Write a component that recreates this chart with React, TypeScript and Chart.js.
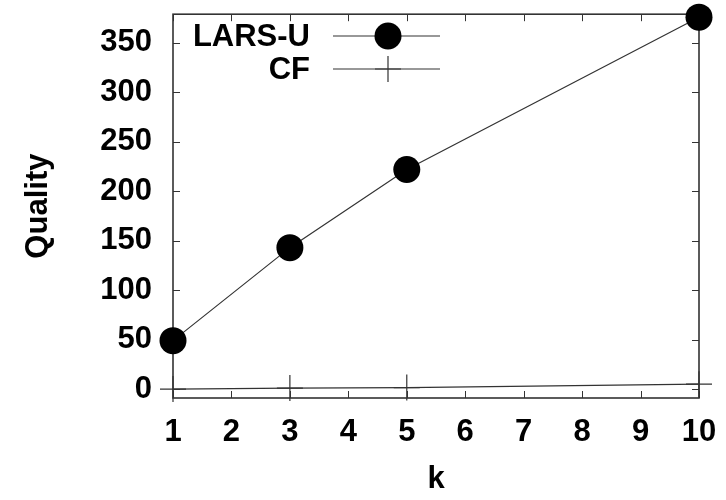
import React, { useEffect, useRef } from "react";
import { Chart, registerables } from "chart.js";

Chart.register(...registerables);

const kValues = [1, 3, 5, 10];
const larsUValues = [49, 143, 222, 376];
const cfValues = [0, 1, 1.5, 5];
const seriesNames = ["LARS-U", "CF"];
const xTickValues = [1, 2, 3, 4, 5, 6, 7, 8, 9, 10];
const yTickValues = [0, 50, 100, 150, 200, 250, 300, 350];
const xTitle = "k";
const yTitle = "Quality";

const FONT = "'Liberation Sans', Arial, Helvetica, sans-serif";
const FONT_SIZE = 31;
const INK = "#333333";

const framePlugin = {
  id: "gnuFrame",
  beforeDatasetsDraw(chart: any) {
    const { ctx, chartArea } = chart;
    const { left, right, top, bottom } = chartArea;
    const xs = chart.scales.x;
    const ys = chart.scales.y;
    const tl = 7;
    ctx.save();
    ctx.strokeStyle = INK;
    ctx.lineWidth = 1;
    ctx.beginPath();
    xTickValues.forEach((v) => {
      const px = Math.round(xs.getPixelForValue(v)) + 0.5;
      ctx.moveTo(px, bottom);
      ctx.lineTo(px, bottom - tl);
      ctx.moveTo(px, top);
      ctx.lineTo(px, top + tl);
    });
    yTickValues.forEach((v) => {
      const py = Math.round(ys.getPixelForValue(v)) + 0.5;
      ctx.moveTo(left, py);
      ctx.lineTo(left + tl, py);
      ctx.moveTo(right, py);
      ctx.lineTo(right - tl, py);
    });
    ctx.stroke();
    ctx.lineWidth = 1.6;
    ctx.strokeRect(left, top, right - left, bottom - top);
    ctx.restore();
  },
  afterDraw(chart: any) {
    const { ctx } = chart;
    const textRight = 310;
    const lineStart = 333;
    const lineEnd = 440;
    const markX = 388;
    const rows = [36, 69];
    ctx.save();
    ctx.font = `bold ${FONT_SIZE}px ${FONT}`;
    ctx.textAlign = "right";
    ctx.textBaseline = "middle";
    ctx.fillStyle = "#000";
    seriesNames.forEach((name, i) => {
      const y = rows[i];
      ctx.fillText(name, textRight, y + 1);
      ctx.strokeStyle = INK;
      ctx.lineWidth = 1.2;
      ctx.beginPath();
      ctx.moveTo(lineStart, y);
      ctx.lineTo(lineEnd, y);
      ctx.stroke();
      if (i === 0) {
        ctx.fillStyle = "#000";
        ctx.beginPath();
        ctx.arc(markX, y, 13.5, 0, Math.PI * 2);
        ctx.fill();
      } else {
        ctx.beginPath();
        ctx.moveTo(markX - 13, y);
        ctx.lineTo(markX + 13, y);
        ctx.moveTo(markX, y - 13);
        ctx.lineTo(markX, y + 13);
        ctx.stroke();
      }
    });
    ctx.restore();
  },
};

export default function App() {
  const canvasRef = useRef<HTMLCanvasElement | null>(null);

  useEffect(() => {
    if (!canvasRef.current) return;
    const zeroPad = (scale: any) => {
      scale.paddingTop = 0;
      scale.paddingBottom = 0;
      scale.paddingLeft = 0;
      scale.paddingRight = 0;
    };
    const chart = new Chart(canvasRef.current, {
      type: "line",
      data: {
        datasets: [
          {
            label: seriesNames[0],
            data: kValues.map((k, i) => ({ x: k, y: larsUValues[i] })),
            borderColor: INK,
            borderWidth: 1.2,
            pointRadius: 13.5,
            pointBackgroundColor: "#000",
            pointBorderColor: "#000",
            pointBorderWidth: 0,
            tension: 0,
            clip: false as any,
          },
          {
            label: seriesNames[1],
            data: kValues.map((k, i) => ({ x: k, y: cfValues[i] })),
            borderColor: INK,
            borderWidth: 1.2,
            pointStyle: "cross",
            pointRadius: 13,
            pointBorderColor: INK,
            pointBorderWidth: 1.2,
            tension: 0,
            clip: false as any,
          },
        ],
      },
      options: {
        responsive: false,
        animation: false,
        layout: { padding: { left: 0, top: 12, right: 27, bottom: 0 } },
        plugins: {
          legend: { display: false },
          tooltip: { enabled: false },
        },
        scales: {
          x: {
            type: "linear",
            min: 1,
            max: 10,
            grid: { display: false, drawTicks: false },
            border: { display: false },
            afterBuildTicks: (scale: any) => {
              scale.ticks = xTickValues.map((v) => ({ value: v }));
            },
            afterFit: (scale: any) => {
              scale.height = 102;
              zeroPad(scale);
            },
            ticks: {
              padding: 16,
              color: "#000",
              maxRotation: 0,
              autoSkip: false,
              font: { family: FONT, size: FONT_SIZE, weight: "bold" },
            },
            title: {
              display: true,
              text: xTitle,
              color: "#000",
              padding: { top: 0, bottom: 2 },
              font: { family: FONT, size: FONT_SIZE, weight: "bold" },
            },
          },
          y: {
            type: "linear",
            min: -9,
            max: 379,
            grid: { display: false, drawTicks: false },
            border: { display: false },
            afterBuildTicks: (scale: any) => {
              scale.ticks = yTickValues.map((v) => ({ value: v }));
            },
            afterFit: (scale: any) => {
              scale.width = 173;
              zeroPad(scale);
            },
            ticks: {
              padding: 21,
              color: "#000",
              autoSkip: false,
              font: { family: FONT, size: FONT_SIZE, weight: "bold" },
            },
            title: {
              display: true,
              text: yTitle,
              color: "#000",
              padding: { top: 20, bottom: 0 },
              font: { family: FONT, size: FONT_SIZE, weight: "bold" },
            },
          },
        },
      },
      plugins: [framePlugin],
    });
    return () => chart.destroy();
  }, []);

  return (
    <div style={{ position: "fixed", left: 0, top: 0, width: 726, height: 500, background: "#fff" }}>
      <canvas ref={canvasRef} width={726} height={500} />
    </div>
  );
}
